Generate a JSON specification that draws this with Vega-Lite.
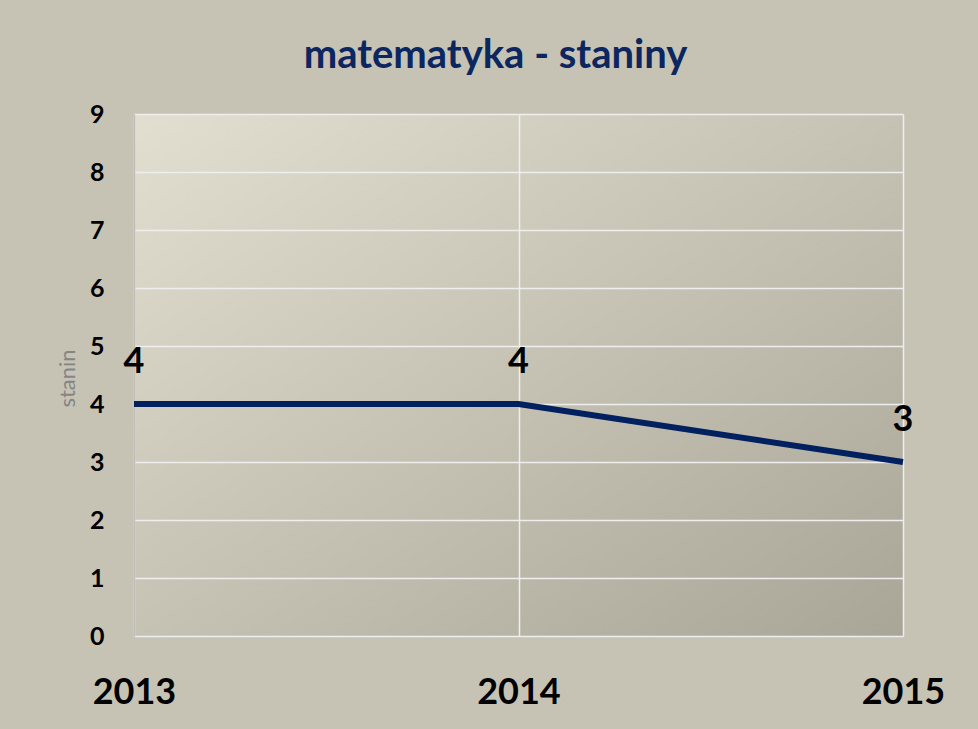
{
  "$schema": "https://vega.github.io/schema/vega-lite/v6.json",
  "width": 769,
  "height": 522,
  "autosize": {"type": "none"},
  "padding": {"left": 134, "top": 114, "right": 75, "bottom": 93},
  "background": "#C6C3B5",
  "view": {
    "stroke": null,
    "fill": {
      "gradient": "linear",
      "x1": 0, "y1": 0, "x2": 1, "y2": 1,
      "stops": [
        {"offset": 0, "color": "#E2DFD1"},
        {"offset": 1, "color": "#A9A698"}
      ]
    }
  },
  "title": {
    "text": "matematyka - staniny",
    "font": "Lato",
    "fontSize": 40,
    "fontWeight": "bold",
    "color": "#0C2660",
    "anchor": "middle",
    "frame": "group",
    "dx": -23,
    "offset": 26
  },
  "data": {
    "values": [
      {"year": "2013", "stanin": 4},
      {"year": "2014", "stanin": 4},
      {"year": "2015", "stanin": 3}
    ]
  },
  "encoding": {
    "x": {
      "field": "year",
      "type": "ordinal",
      "sort": null,
      "scale": {"type": "point", "padding": 0},
      "axis": {
        "title": null,
        "labelAngle": 0,
        "labelFont": "Lato",
        "labelFontSize": 36,
        "labelFontWeight": "bold",
        "labelColor": "#000000",
        "labelOverlap": false,
        "labelBaseline": "alphabetic",
        "labelPadding": 67,
        "ticks": false,
        "tickSize": 0,
        "domain": false,
        "grid": true,
        "gridColor": "#EEEEEE",
        "gridWidth": 1.5,
        "gridOpacity": 1
      }
    },
    "y": {
      "field": "stanin",
      "type": "quantitative",
      "scale": {"domain": [0, 9], "nice": false},
      "axis": {
        "title": "stanin",
        "titleFont": "Lato",
        "titleFontSize": 22,
        "titleFontWeight": "normal",
        "titleColor": "#858585",
        "titleAngle": -90,
        "titleX": -67,
        "titleY": 264,
        "titleAlign": "center",
        "titleBaseline": "middle",
        "values": [0, 1, 2, 3, 4, 5, 6, 7, 8, 9],
        "tickCount": 10,
        "labelFont": "Lato",
        "labelFontSize": 25,
        "labelFontWeight": "bold",
        "labelColor": "#000000",
        "labelPadding": 30,
        "labelBaseline": "middle",
        "labelOverlap": false,
        "ticks": false,
        "tickSize": 0,
        "domain": true,
        "domainColor": "#BEBDB8",
        "domainWidth": 1.5,
        "grid": true,
        "gridColor": "#EEEEEE",
        "gridWidth": 1.5,
        "gridOpacity": 1
      }
    }
  },
  "layer": [
    {
      "mark": {"type": "line", "color": "#00205F", "strokeWidth": 6, "strokeCap": "butt"}
    },
    {
      "mark": {
        "type": "text",
        "font": "Lato",
        "fontSize": 36,
        "fontWeight": "bold",
        "color": "#000000",
        "baseline": "alphabetic",
        "dy": -31
      },
      "encoding": {
        "text": {"field": "stanin", "type": "quantitative"}
      }
    }
  ]
}
